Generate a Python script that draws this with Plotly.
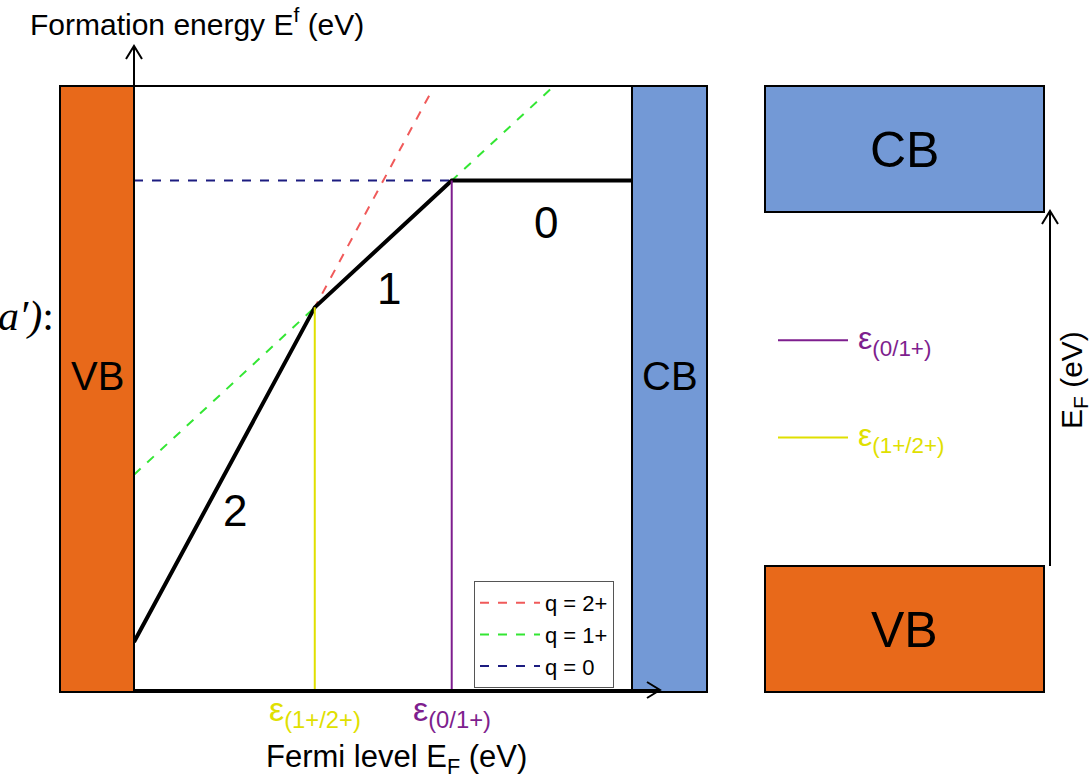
import plotly.graph_objects as go

W, H = 1091, 780

# ---------------- data (eV, arbitrary scale) ----------------
EG = 1.0                                   # band gap (VBM = 0, CBM = EG)
charges = [2, 1, 0]                        # charge states q
intercepts = [0.104, 0.467, 1.105]         # formation energy at E_F = 0 for q = 2+, 1+, 0
legend_names = ["q = 2+", "q = 1+", "q = 0"]
line_colors = ["#F05A5A", "#33E633", "#1C1C80"]
segment_labels = ["2", "1", "0"]
E_TOP = 1.306                              # top of plotted energy window

# transition levels
eps_12 = intercepts[1] - intercepts[0]     # ε(1+/2+)
eps_01 = intercepts[2] - intercepts[1]     # ε(0/1+)

# ---------------- layout geometry (pixels) ----------------
X0, X1 = 134, 632           # VBM / CBM position on main panel
Y0 = 690                    # formation energy zero
a = (X1 - X0) / EG          # px per eV (x)
b = 461.0                   # px per eV (y)
RY0, RY1 = 566, 212         # right panel VBM / CBM
c = (RY0 - RY1) / EG

def px(x):
    return x / W

def py(y):
    return 1 - y / H

FONT = "Arial, Liberation Sans, sans-serif"
ORANGE = "#E8691A"
BLUE = "#7399D6"
PURPLE = "#7E1E8E"
YELLOW = "#E0E000"

fig = go.Figure()

# dashed charge-state lines
for q, e0, name, col in zip(charges, intercepts, legend_names, line_colors):
    if q == 0:
        xe = eps_01
    else:
        xe = (E_TOP - e0) / q
    fig.add_trace(go.Scatter(
        x=[0, xe], y=[e0, e0 + q * xe], mode="lines", name=name,
        line=dict(color=col, width=2, dash="dash"), showlegend=True,
        hoverinfo="skip"))

# black minimum-energy envelope
env_x = [0, eps_12, eps_01, EG]
env_y = [intercepts[0], intercepts[1] + eps_12, intercepts[2], intercepts[2]]
fig.add_trace(go.Scatter(x=env_x, y=env_y, mode="lines", showlegend=False,
                         line=dict(color="black", width=4), hoverinfo="skip"))

# vertical transition-level lines
fig.add_trace(go.Scatter(x=[eps_12, eps_12], y=[0, intercepts[1] + eps_12], mode="lines",
                         showlegend=False, line=dict(color=YELLOW, width=2), hoverinfo="skip"))
fig.add_trace(go.Scatter(x=[eps_01, eps_01], y=[0, intercepts[2]], mode="lines",
                         showlegend=False, line=dict(color=PURPLE, width=2), hoverinfo="skip"))

shapes = []
# main panel frame
shapes.append(dict(type="rect", xref="paper", yref="paper", x0=px(X0), x1=px(X1),
                   y0=py(692), y1=py(86), line=dict(color="black", width=2)))
# VB and CB boxes on main panel
shapes.append(dict(type="rect", xref="paper", yref="paper", x0=px(60), x1=px(X0),
                   y0=py(692), y1=py(86), fillcolor=ORANGE, line=dict(color="black", width=2)))
shapes.append(dict(type="rect", xref="paper", yref="paper", x0=px(X1), x1=px(707),
                   y0=py(692), y1=py(86), fillcolor=BLUE, line=dict(color="black", width=2)))
# right panel boxes
shapes.append(dict(type="rect", xref="paper", yref="y2", x0=px(765), x1=px(1044),
                   y0=EG, y1=EG + (RY1 - 86) / c, fillcolor=BLUE, line=dict(color="black", width=2)))
shapes.append(dict(type="rect", xref="paper", yref="y2", x0=px(765), x1=px(1044),
                   y0=0, y1=-(692 - RY0) / c, fillcolor=ORANGE, line=dict(color="black", width=2)))

# axis arrows
def arrow_path(points):
    return "M " + " L ".join(f"{px(x)},{py(y)}" for x, y in points)

for pts in [
    [(X0, 692), (X0, 46)],
    [(126, 59), (X0, 46), (142, 59)],
    [(X0, 690), (660, 690)],
    [(647, 682), (660, 690), (647, 698)],
    [(1050, 566), (1050, 211)],
    [(1042, 224), (1050, 211), (1058, 224)],
]:
    shapes.append(dict(type="path", xref="paper", yref="paper", path=arrow_path(pts),
                       line=dict(color="black", width=2)))

# right panel transition-level markers
for lvl, col in [(eps_01, PURPLE), (eps_12, YELLOW)]:
    shapes.append(dict(type="line", xref="paper", yref="y2", x0=px(778), x1=px(848),
                       y0=lvl, y1=lvl, line=dict(color=col, width=2)))

fig.update_layout(shapes=shapes)

ann = []
def text(x, y, t, size, color="black", xref="paper", yref="paper", xanchor="center",
         yanchor="middle", angle=0, family=FONT):
    ann.append(dict(x=x, y=y, xref=xref, yref=yref, text=t, showarrow=False,
                    font=dict(size=size, color=color, family=family),
                    xanchor=xanchor, yanchor=yanchor, textangle=angle))

text(px(197), py(22), "Formation energy E<sup>f</sup> (eV)", 30)
text(px(396), py(759), "Fermi level E<sub>F</sub> (eV)", 31)
text(px(97), py(376), "VB", 40)
text(px(670), py(376), "CB", 40)
text(px(904), py(150), "CB", 50)
text(px(904), py(630), "VB", 50)
text(px(1073), py(380), "E<sub>F</sub> (eV)", 30, angle=-90)
text(px(56), py(316), "<i>a′)</i>:", 42, xanchor="right", family="Liberation Serif, serif")

# segment labels
for lab, (x, y) in zip(segment_labels, [(235, 510), (389, 288), (546, 222)]):
    text(px(x), py(y), lab, 44)

# transition level labels (bottom axis)
text(eps_12, py(711), "ε<sub>(1+/2+)</sub>", 34, color=YELLOW, xref="x")
text(eps_01, py(711), "ε<sub>(0/1+)</sub>", 34, color=PURPLE, xref="x")
# right panel labels
text(px(856), eps_01, "ε<sub>(0/1+)</sub>", 32, color=PURPLE, yref="y2", xanchor="left")
text(px(856), eps_12, "ε<sub>(1+/2+)</sub>", 32, color=YELLOW, yref="y2", xanchor="left")

fig.update_layout(annotations=ann)

fig.update_layout(
    width=W, height=H, margin=dict(l=0, r=0, t=0, b=0),
    paper_bgcolor="white", plot_bgcolor="white",
    xaxis=dict(range=[-X0 / a, (W - X0) / a], visible=False, domain=[0, 1], fixedrange=True),
    yaxis=dict(range=[-(H - Y0) / b, Y0 / b], visible=False, domain=[0, 1], fixedrange=True),
    yaxis2=dict(range=[-(H - RY0) / c, RY0 / c], visible=False, overlaying="y", fixedrange=True),
    legend=dict(x=px(474), y=py(581), xanchor="left", yanchor="top",
                bordercolor="#555555", borderwidth=1, bgcolor="white", itemwidth=60,
                font=dict(size=22, family=FONT, color="black"), tracegroupgap=0),
    showlegend=True,
)

fig.write_html("out.html")
